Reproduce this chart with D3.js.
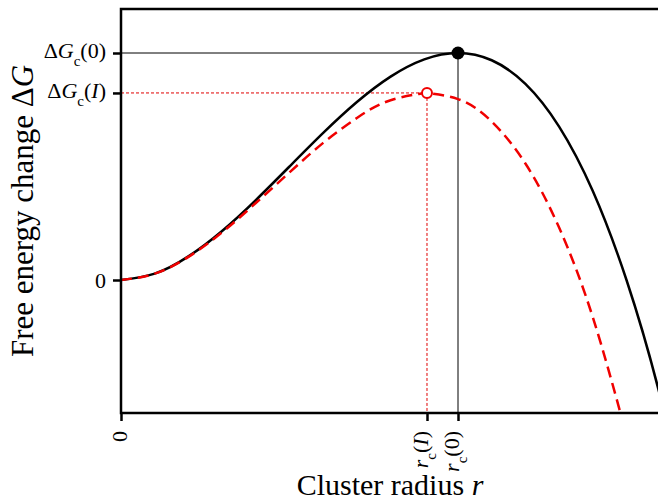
<!DOCTYPE html>
<html>
<head>
<meta charset="utf-8">
<script src="https://cdn.jsdelivr.net/npm/d3@7"></script>
<style>
html, body { margin: 0; padding: 0; background: #fff; }
svg { display: block; }
text { font-family: "Liberation Serif", "Times New Roman", "DejaVu Serif", serif; fill: #000; }
</style>
</head>
<body>
<svg id="chart" width="658" height="502"></svg>
<script>
// ---- data (radius in units of r_c(0), free energy in units of ΔG_c(0)) ----
const radius = [0, 0.1, 0.2, 0.3, 0.4, 0.5, 0.6, 0.7, 0.8, 0.9, 1.0, 1.1, 1.2, 1.3, 1.4, 1.5, 1.6, 1.7];
const dG_noI = [0, 0.028, 0.104, 0.216, 0.352, 0.5, 0.648, 0.784, 0.896, 0.972, 1.0, 0.968, 0.864, 0.676, 0.392, 0.0, -0.512, -1.156];
const radiusI = [0, 0.1, 0.2, 0.3, 0.4, 0.5, 0.6, 0.7, 0.8, 0.9, 0.908, 1.0, 1.1, 1.2, 1.3, 1.4, 1.5];
const dG_I = [0, 0.028, 0.102, 0.210, 0.339, 0.474, 0.604, 0.714, 0.792, 0.824, 0.824, 0.797, 0.698, 0.513, 0.231, -0.164, -0.684];
const criticalR = [1.0, 0.908];      // r_c(0), r_c(I)
const criticalG = [1.0, 0.824];      // ΔG_c(0), ΔG_c(I)
const yTickValues = [0, 0.824, 1.0];
const yTickLabels = [["0"], ["Δ", "G", "c", "(", "I", ")"], ["Δ", "G", "c", "(0)"]];
const xTickValues = [0, 0.908, 1.0];
const xTickLabels = [["0"], ["r", "c", "(", "I", ")"], ["r", "c", "(0)"]];
const xTitle = "Cluster radius ";
const yTitle = "Free energy change Δ";

(function () {
// ---- layout ----
const svg = d3.select("#chart");
const mLeft = 121, mTop = 9, mBottom = 413;
const x = d3.scaleLinear().domain([0, 1.7]).range([mLeft, mLeft + 1.7 * 337]);
const y = d3.scaleLinear().domain([0, 1]).range([280, 53]);
const mRight = x(1.7);

svg.append("clipPath").attr("id", "plotclip")
  .append("rect").attr("x", mLeft).attr("y", mTop).attr("width", mRight - mLeft).attr("height", mBottom - mTop);

const plot = svg.append("g").attr("clip-path", "url(#plotclip)");

// reference lines
plot.append("line").attr("x1", mLeft).attr("x2", x(criticalR[0])).attr("y1", y(criticalG[0])).attr("y2", y(criticalG[0]))
  .attr("stroke", "#000").attr("stroke-width", 1);
plot.append("line").attr("x1", x(criticalR[0])).attr("x2", x(criticalR[0])).attr("y1", y(criticalG[0])).attr("y2", mBottom)
  .attr("stroke", "#000").attr("stroke-width", 1);
plot.append("line").attr("x1", mLeft).attr("x2", x(criticalR[1])).attr("y1", y(criticalG[1])).attr("y2", y(criticalG[1]))
  .attr("stroke", "#e00000").attr("stroke-width", 1).attr("stroke-dasharray", "3,2");
plot.append("line").attr("x1", x(criticalR[1])).attr("x2", x(criticalR[1])).attr("y1", y(criticalG[1])).attr("y2", mBottom)
  .attr("stroke", "#e00000").attr("stroke-width", 1).attr("stroke-dasharray", "3,2");

const line = d3.line().x(d => x(d[0])).y(d => y(d[1])).curve(d3.curveNatural);

plot.append("path").datum(radius.map((r, i) => [r, dG_noI[i]]))
  .attr("d", line).attr("fill", "none").attr("stroke", "#000").attr("stroke-width", 2.5);
plot.append("path").datum(radiusI.map((r, i) => [r, dG_I[i]]))
  .attr("d", line).attr("fill", "none").attr("stroke", "#f00000").attr("stroke-width", 2.5)
  .attr("stroke-dasharray", "11,6");

// markers
svg.append("circle").attr("cx", x(criticalR[0])).attr("cy", y(criticalG[0])).attr("r", 6.5).attr("fill", "#000");
svg.append("circle").attr("cx", x(criticalR[1])).attr("cy", y(criticalG[1])).attr("r", 5)
  .attr("fill", "#fff").attr("stroke", "#f00000").attr("stroke-width", 2);

// frame (right edge lies outside the window)
svg.append("path").attr("d", `M${mRight},${mTop}H${mLeft}V${mBottom}H${mRight}`)
  .attr("fill", "none").attr("stroke", "#000").attr("stroke-width", 2.5);

// axes ticks
const yAxis = svg.append("g").attr("transform", `translate(${mLeft},0)`)
  .call(d3.axisLeft(y).tickValues(yTickValues).tickSize(8).tickFormat(""));
const xAxis = svg.append("g").attr("transform", `translate(0,${mBottom})`)
  .call(d3.axisBottom(x).tickValues(xTickValues).tickSize(8).tickFormat(""));
[yAxis, xAxis].forEach(a => {
  a.select(".domain").remove();
  a.selectAll(".tick line").attr("stroke", "#000").attr("stroke-width", 2.5);
});

function fillLabel(t, parts) {
  if (parts.length === 1) { t.append("tspan").text(parts[0]); return; }
  const isDelta = parts[0] === "Δ";
  let i = 0;
  if (isDelta) { t.append("tspan").text("Δ"); i = 1; }
  t.append("tspan").attr("font-style", "italic").text(parts[i]); // G or r
  t.append("tspan").attr("font-size", "15px").attr("dy", 8).text(parts[i + 1]); // c
  const rest = parts.slice(i + 2);
  rest.forEach((p, k) => {
    const s = t.append("tspan").text(p);
    if (k === 0) s.attr("dy", -8);
    if (p === "I") s.attr("font-style", "italic");
  });
}

// y tick labels
yTickValues.forEach((v, i) => {
  const single = yTickLabels[i].length === 1;
  const t = svg.append("text").attr("x", 106).attr("y", y(v) + (single ? 7.5 : 5))
    .attr("text-anchor", "end").attr("font-size", "22px");
  fillLabel(t, yTickLabels[i]);
});

// x tick labels (rotated)
xTickValues.forEach((v, i) => {
  const single = xTickLabels[i].length === 1;
  const t = svg.append("text")
    .attr("transform", `translate(${x(v) + (single ? 6 : 1)},${mBottom + 18}) rotate(-90)`)
    .attr("text-anchor", "end").attr("font-size", "22px");
  fillLabel(t, xTickLabels[i]);
});

// axis titles
const xt = svg.append("text").attr("x", 390).attr("y", 495).attr("text-anchor", "middle").attr("font-size", "30px");
xt.append("tspan").text(xTitle);
xt.append("tspan").attr("font-style", "italic").text("r");

const yt = svg.append("text").attr("transform", `translate(33,${(mTop + mBottom) / 2}) rotate(-90)`)
  .attr("text-anchor", "middle").attr("font-size", "31px");
yt.append("tspan").text(yTitle);
yt.append("tspan").attr("font-style", "italic").text("G");
})();
</script>
</body>
</html>
